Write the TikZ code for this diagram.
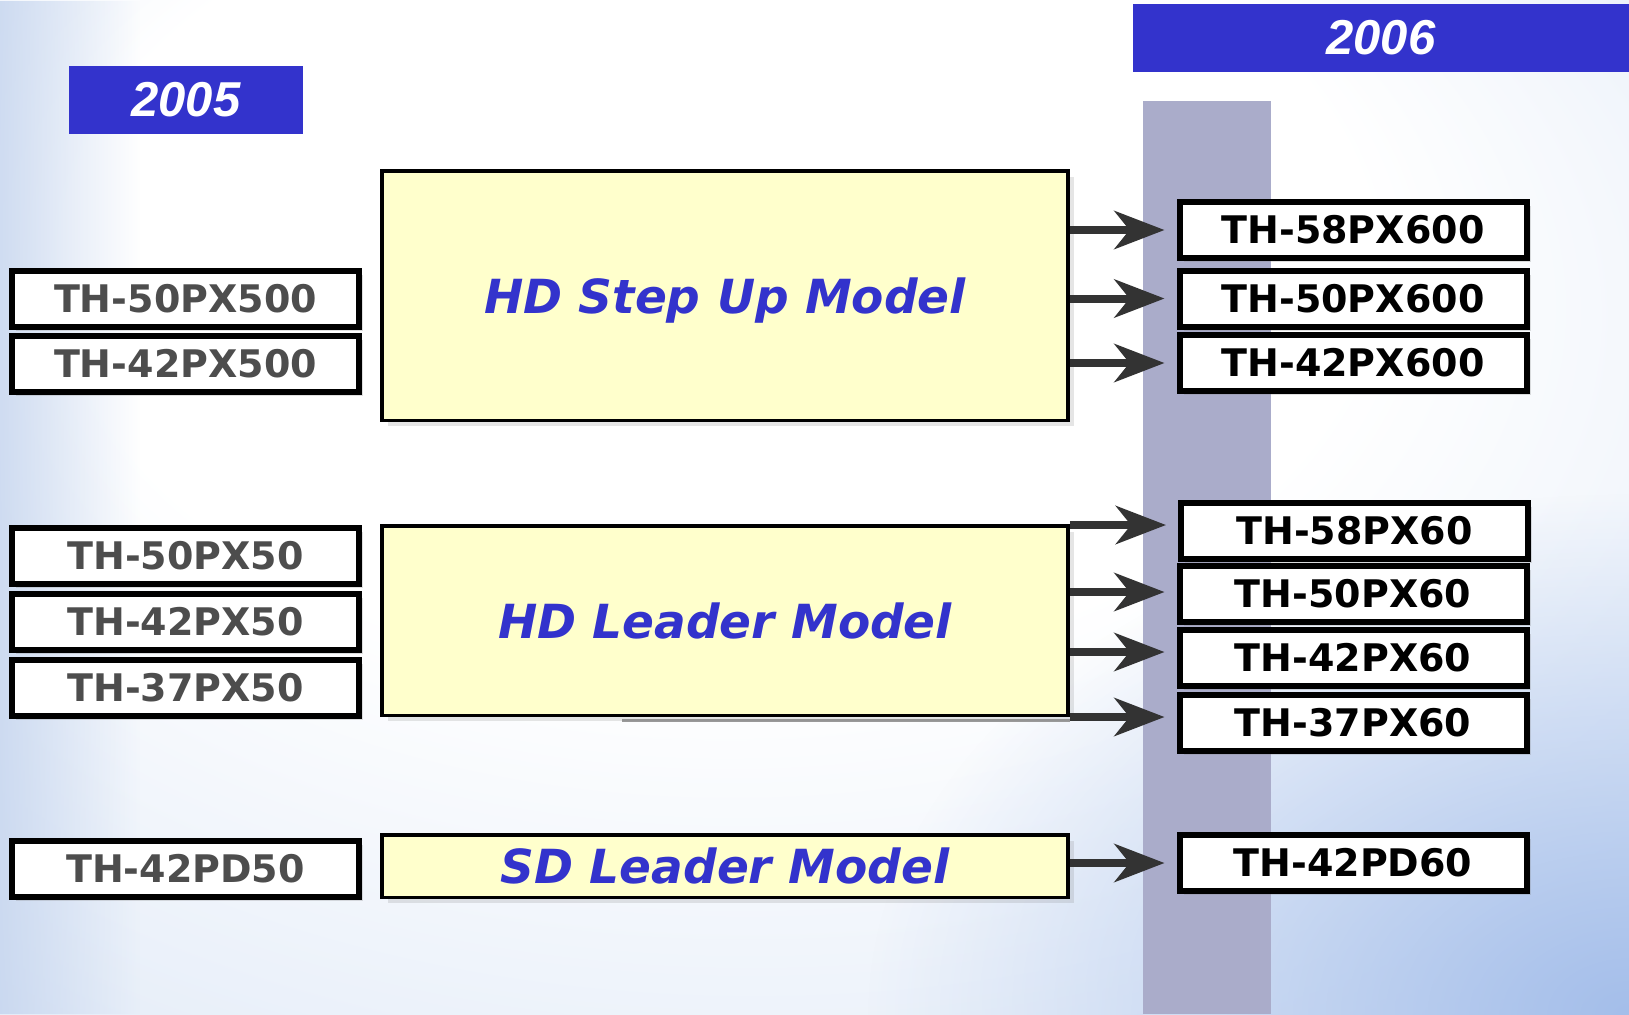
\documentclass[tikz,border=0pt]{standalone}
\usepackage{fontspec}
\setmainfont{DejaVu Sans}[BoldFont={DejaVu Sans Bold},ItalicFont={DejaVu Sans Oblique},BoldItalicFont={DejaVu Sans Bold Oblique}]
\newfontfamily\yearfont{Liberation Sans}
\usetikzlibrary{arrows.meta,shadows,calc,fadings}
\tikzfading[name=cornerfade, inner color=transparent!0, outer color=transparent!100]
\tikzfading[name=leftfade, left color=transparent!0, right color=transparent!100]
\definecolor{blu}{HTML}{3333CC}
\definecolor{yel}{HTML}{FFFFCC}
\definecolor{barc}{HTML}{AAACCA}
\definecolor{bgA}{HTML}{E8EFF9}
\definecolor{bgB}{HTML}{CCDAF2}
\definecolor{bgC}{HTML}{A4BEEA}
\definecolor{bgL}{HTML}{C4D4EE}
\definecolor{arrc}{HTML}{333333}
\definecolor{lgray}{HTML}{4D4D4D}
\pgfdeclareradialshading{bgshade}{\pgfpoint{-5bp}{20bp}}{color(0bp)=(white); color(20bp)=(white); color(36bp)=(bgA); color(50bp)=(bgB)}
\begin{document}
\begin{tikzpicture}[x=0.5pt,y=-0.5pt,
  lab/.style={draw=black, line width=3pt, fill=white, minimum width=173.5pt, minimum height=28pt, inner sep=0pt,
    font=\bfseries\fontsize{19}{19}\selectfont,
    drop shadow={opacity=0.25, shadow xshift=2pt, shadow yshift=-2pt}},
  labL/.style={lab, text=lgray},
  labR/.style={lab, text=black},
  model/.style={draw=black, line width=1.75pt, fill=yel, minimum width=343pt, inner sep=0pt, text=blu,
    text depth=0pt, font=\bfseries\itshape\fontsize{23.5}{23.5}\selectfont,
    drop shadow={opacity=0.2, shadow xshift=3pt, shadow yshift=-3pt}},
  yearbox/.style={fill=blu, text=white, inner sep=0pt, minimum height=34pt,
    font=\yearfont\bfseries\itshape\fontsize{24.5}{24.5}\selectfont},
  conn/.style={draw=arrc, line width=4pt, -{Stealth[length=25pt,width=19pt,inset=7.5pt]}}]
% background
\useasboundingbox (0,0) rectangle (1629,1014);
\begin{scope}
  \clip (0,0) rectangle (1629,1014);
  \shade[shading=bgshade] (0,0) rectangle (1629,1014);
  \fill[bgC, path fading=cornerfade] (1629,1014) ellipse (760 and 520);
  \fill[bgL, path fading=leftfade, opacity=0.8] (0,0) rectangle (140,1014);
\end{scope}
% vertical bar
\fill[barc] (1143,101) rectangle (1271,1014);
% year headers
\node[yearbox, minimum width=117pt] (y05) at (186,100) {2005};
\node[yearbox, minimum width=248pt] (y06) at (1381,38) {2006};
% gray line under HD leader
\coordinate (gl) at (622,720);
\draw[line width=1.5pt, draw=black!40] (gl) -- (1070,720);
% model boxes
\node[model, minimum height=124.75pt] (hdstep) at (725,295.5) {HD Step Up Model};
\node[model, minimum height=94.75pt] (hdlead) at (725,620.5) {HD Leader Model};
\node[model, minimum height=31.25pt] (sdlead) at (725,866) {SD Leader Model};
% left labels
\node[labL] (L1) at (185.5,299) {TH-50PX500};
\node[labL] (L2) at (185.5,363.5) {TH-42PX500};
\node[labL] (L3) at (185.5,556) {TH-50PX50};
\node[labL] (L4) at (185.5,622) {TH-42PX50};
\node[labL] (L5) at (185.5,688) {TH-37PX50};
\node[labL] (L6) at (185.5,869) {TH-42PD50};
% right labels
\node[labR] (R1) at (1353,230) {TH-58PX600};
\node[labR] (R2) at (1353,298.5) {TH-50PX600};
\node[labR] (R3) at (1353,363) {TH-42PX600};
\node[labR] (R4) at (1354.5,530.5) {TH-58PX60};
\node[labR] (R5) at (1353,594) {TH-50PX60};
\node[labR] (R6) at (1353,657.5) {TH-42PX60};
\node[labR] (R7) at (1353,722.5) {TH-37PX60};
\node[labR] (R8) at (1353,863) {TH-42PD60};
% arrows
\foreach \r/\s/\dy in {R1/hdstep/0, R2/hdstep/0, R3/hdstep/0, R4/hdlead/2.75, R5/hdlead/1, R6/hdlead/2.75, R7/hdlead/2.75, R8/sdlead/0}{
  \coordinate (t\r) at ([xshift=-6pt,yshift=\dy pt]\r.west);
  \draw[conn] (\s.east |- t\r) -- (t\r);
}
\end{tikzpicture}
\end{document}
